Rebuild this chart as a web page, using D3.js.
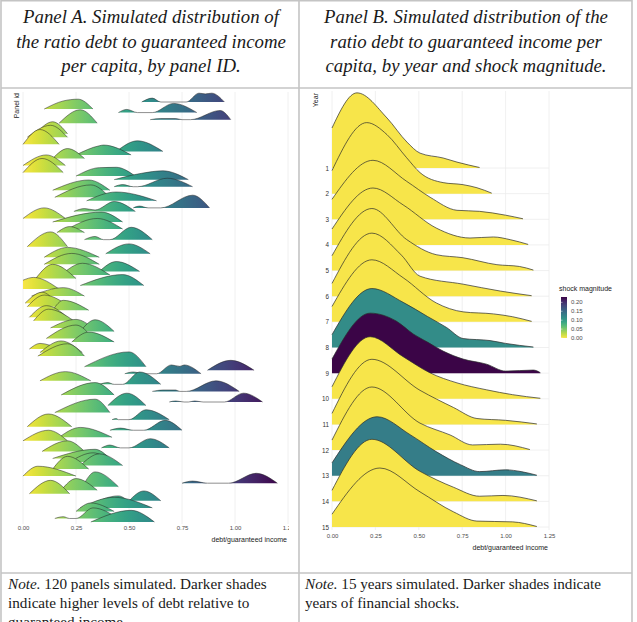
<!DOCTYPE html>
<html>
<head>
<meta charset="utf-8">
<script src="https://cdn.jsdelivr.net/npm/d3@7"></script>
<style>
  body { margin: 0; background: #fff; }
</style>
</head>
<body>
<div id="wrapper"></div>
<script>

// ---- data ----
const xTicks = [0, 0.25, 0.5, 0.75, 1, 1.25];
const years = [1, 2, 3, 4, 5, 6, 7, 8, 9, 10, 11, 12, 13, 14, 15];
const shockMagnitude = [0, 0, 0, 0, 0, 0, 0, 0.115, 0.23, 0, 0, 0, 0.13, 0, 0];
const legendTicks = [0, 0.05, 0.10, 0.15, 0.20];

// density per year: [debt ratio, density]
const yearDensities = [
  [[0,1.56],[0.144,2.93],[0.317,1.95],[0.432,1.01],[0.507,0.58],[0.64,0.39],[0.72,0.23],[0.85,0.02]],
  [[0,0.9],[0.2,2.77],[0.317,2.3],[0.43,1.4],[0.507,0.82],[0.64,0.43],[0.755,0.35],[0.835,0.23],[0.92,0.02]],
  [[0,0.78],[0.236,2.3],[0.43,1.48],[0.565,0.86],[0.72,0.35],[0.85,0.31],[1.0,0.16],[1.10,0.02]],
  [[0,0.62],[0.236,2.22],[0.41,1.56],[0.6,0.66],[0.795,0.27],[0.93,0.31],[1.03,0.2],[1.13,0.02]],
  [[0,0.58],[0.23,2.42],[0.43,1.21],[0.6,0.62],[0.755,0.5],[0.95,0.23],[1.08,0.16],[1.16,0.02]],
  [[0,0.5],[0.23,2.46],[0.4,1.6],[0.507,0.78],[0.755,0.47],[0.97,0.2],[1.15,0.02]],
  [[0,0.6],[0.23,2.42],[0.41,1.72],[0.6,0.74],[0.755,0.39],[0.93,0.31],[1.04,0.2],[1.15,0.02]],
  [[0,0.5],[0.23,2.3],[0.41,1.76],[0.55,1.21],[0.66,0.78],[0.755,0.35],[0.91,0.27],[1.0,0.16],[1.16,0.02]],
  [[0,0.55],[0.22,2.34],[0.37,2.03],[0.47,1.52],[0.55,1.21],[0.64,0.86],[0.755,0.55],[0.89,0.35],[1.0,0.08],[1.16,0.12],[1.2,0.02]],
  [[0,0.47],[0.22,2.42],[0.41,1.64],[0.565,1.01],[0.72,0.62],[0.89,0.35],[1.04,0.16],[1.2,0.02]],
  [[0,0.43],[0.23,2.54],[0.507,1.33],[0.7,0.66],[0.835,0.23],[1.0,0.16],[1.18,0.02]],
  [[0,0.39],[0.23,2.46],[0.507,1.05],[0.68,0.59],[0.81,0.2],[0.97,0.23],[1.14,0.02]],
  [[0,0.5],[0.26,2.3],[0.45,1.6],[0.6,0.94],[0.74,0.43],[0.85,0.16],[1.0,0.23],[1.09,0.16],[1.18,0.02]],
  [[0,0.43],[0.23,2.42],[0.507,1.17],[0.7,0.55],[0.85,0.2],[0.985,0.23],[1.18,0.02]],
  [[0,0.5],[0.276,2.3],[0.507,1.37],[0.7,0.59],[0.835,0.23],[1.04,0.2],[1.18,0.02]]
];

// panel ids (1..120) with visible ridges, and their densities
const panelIds = [120,118,117,115,114,111,110,108,106,105,104,102,100,99,98,96,95,93,92,90,89,87,86,84,83,81,
  79,77,76,74,72,71,70,68,67,65,63,62,61,59,58,56,55,53,52,50,49,48,45,44,43,41,40,38,37,35,34,32,30,28,27,
  25,24,22,21,19,18,17,16,14,12,11,10,9,7,6,5,4,2,1];
const panelDensities = [
  [[0.56,0],[0.61,1.1],[0.65,0],[0.77,0],[0.83,2.5],[0.86,2.3],[0.89,2.5],[0.95,0]],
  [[0.10,0],[0.19,2.3],[0.26,2.8],[0.33,0]],
  [[0.45,0],[0.49,0.9],[0.54,0],[0.61,0],[0.71,2.6],[0.82,0]],
  [[0.60,0],[0.65,0.3],[0.72,0.3],[0.75,0],[0.79,0],[0.93,2.6],[0.98,0]],
  [[0.17,0],[0.27,3.8],[0.35,0]],
  [[0.06,0],[0.14,3.4],[0.21,0]],
  [[0.02,0],[0.13,3.4],[0.21,0]],
  [[0.00,0],[0.08,4.2],[0.17,0]],
  [[0.44,0],[0.54,3.0],[0.66,0]],
  [[0.25,0],[0.36,2.6],[0.38,2.8],[0.51,0]],
  [[0.14,0],[0.21,2.8],[0.29,0]],
  [[0.00,0],[0.11,3.0],[0.20,0]],
  [[0.00,0],[0.09,4.0],[0.19,0]],
  [[0.25,0],[0.36,2.4],[0.44,2.5],[0.53,0]],
  [[0.43,0],[0.56,1.8],[0.66,2.5],[0.78,0]],
  [[0.43,0],[0.47,0.6],[0.52,0],[0.54,0],[0.68,2.4],[0.80,0]],
  [[0.14,0],[0.31,2.9],[0.41,0]],
  [[0.15,0],[0.32,3.5],[0.41,0]],
  [[0.30,0],[0.44,2.5],[0.63,0]],
  [[0.52,0],[0.55,0.5],[0.59,0],[0.65,0],[0.80,3.6],[0.88,0]],
  [[0.24,0],[0.29,0.8],[0.34,0.4],[0.43,2.8],[0.53,0]],
  [[0.00,0],[0.10,3.0],[0.20,0]],
  [[0.14,0],[0.37,2.8],[0.47,0]],
  [[0.21,0],[0.35,3.0],[0.47,0]],
  [[0.16,0],[0.22,1.7],[0.29,0]],
  [[0.29,0],[0.34,0.9],[0.38,0],[0.41,0],[0.51,3.5],[0.61,0]],
  [[0.02,0],[0.13,4.2],[0.21,0]],
  [[0.39,0],[0.50,2.8],[0.60,0]],
  [[0.10,0],[0.21,2.8],[0.36,0]],
  [[0.10,0],[0.23,3.1],[0.36,0]],
  [[0.36,0],[0.44,2.8],[0.55,0]],
  [[0.18,0],[0.28,3.3],[0.41,0]],
  [[0.06,0],[0.14,4.0],[0.25,0]],
  [[0.27,0],[0.47,3.1],[0.57,0]],
  [[0.00,2.5],[0.05,3.3],[0.17,0]],
  [[0.04,0],[0.19,2.4],[0.29,0]],
  [[0.01,0],[0.09,3.1],[0.16,0]],
  [[0.02,0],[0.10,3.3],[0.22,0]],
  [[0.14,0],[0.19,2.8],[0.31,0]],
  [[0.03,0],[0.11,3.3],[0.21,0]],
  [[0.05,0],[0.12,3.3],[0.24,0]],
  [[0.13,0],[0.25,2.4],[0.33,0]],
  [[0.27,0],[0.34,3.3],[0.43,0]],
  [[0.11,0],[0.25,3.8],[0.33,0]],
  [[0.23,0],[0.31,2.8],[0.43,0]],
  [[0.03,0],[0.08,1.6],[0.17,0]],
  [[0.08,0],[0.18,3.3],[0.28,0]],
  [[0.07,0],[0.21,3.5],[0.29,0]],
  [[0.29,0],[0.50,4.2],[0.58,0]],
  [[0.87,0],[0.98,2.8],[1.09,0]],
  [[0.48,0],[0.52,0.5],[0.57,0],[0.63,0],[0.70,2.5],[0.74,2.1],[0.76,2.5],[0.84,0]],
  [[0.08,0],[0.20,2.6],[0.32,0]],
  [[0.36,0],[0.40,0.5],[0.43,0],[0.47,0],[0.55,3.5],[0.65,0]],
  [[0.61,0],[0.66,0.4],[0.72,0.4],[0.74,0],[0.77,0],[0.91,3.0],[1.02,0]],
  [[0.18,0],[0.34,3.5],[0.43,0]],
  [[0.69,0],[0.72,0.3],[0.76,0],[0.78,0],[0.81,0.3],[0.85,0],[0.95,0],[1.04,2.5],[1.13,0]],
  [[0.40,0],[0.49,3.5],[0.58,0]],
  [[0.15,0],[0.34,3.8],[0.41,0]],
  [[0.42,0],[0.44,0.3],[0.45,0],[0.50,0],[0.58,2.8],[0.69,0]],
  [[0.02,0],[0.12,3.6],[0.23,0]],
  [[0.41,0],[0.46,0.6],[0.52,0],[0.57,0],[0.67,2.8],[0.75,0]],
  [[0.17,0],[0.27,2.8],[0.42,0]],
  [[0.00,0],[0.12,3.0],[0.21,0]],
  [[0.37,0],[0.41,0.8],[0.46,0],[0.50,0],[0.60,2.6],[0.69,0]],
  [[0.09,0],[0.21,3.0],[0.29,0]],
  [[0.14,0],[0.34,2.6],[0.41,0]],
  [[0.22,0],[0.33,2.6],[0.42,0]],
  [[0.27,0],[0.36,3.3],[0.47,0]],
  [[0.14,0],[0.21,3.6],[0.31,0]],
  [[0.00,0],[0.07,2.8],[0.25,0]],
  [[0.75,0],[0.80,0.6],[0.87,0],[0.97,0],[1.10,2.8],[1.20,0]],
  [[0.28,0],[0.34,4.2],[0.45,0]],
  [[0.18,0],[0.25,3.3],[0.35,0]],
  [[0.03,0],[0.13,3.8],[0.22,0]],
  [[0.50,0],[0.57,2.8],[0.65,0]],
  [[0.32,0],[0.45,2.4],[0.51,0]],
  [[0.27,0],[0.43,3.0],[0.61,0]],
  [[0.25,0],[0.32,2.4],[0.43,0]],
  [[0.15,0],[0.19,0.5],[0.22,0],[0.25,0],[0.33,3.0],[0.45,0]],
  [[0.32,0],[0.51,3.3],[0.62,0]]
];

const headerA = ["Panel A. Simulated distribution of", "the ratio debt to guaranteed income", "per capita, by panel ID."];
const headerB = ["Panel B. Simulated distribution of the", "ratio debt to guaranteed income per", "capita, by year and shock magnitude."];
const noteA = ["120 panels simulated. Darker shades", "indicate higher levels of debt relative to", "guaranteed income."];
const noteB = ["15 years simulated. Darker shades indicate", "years of financial shocks."];

// ---- layout ----
const width = 637, height = 622;
const svg = d3.select("#wrapper").append("svg")
  .attr("width", width).attr("height", height)
  .style("font-family", "'Liberation Sans', Arial, sans-serif");

const defs = svg.append("defs");

// table lines
const tableColor = "#c4c4c4";
const table = svg.append("g").attr("stroke", tableColor).attr("stroke-width", 1.6);
table.append("line").attr("x1", 1).attr("x2", 1).attr("y1", 0).attr("y2", height);
table.append("line").attr("x1", 632).attr("x2", 632).attr("y1", 0).attr("y2", height);
table.append("line").attr("x1", 299).attr("x2", 299).attr("y1", 0).attr("y2", height);
table.append("line").attr("x1", 1).attr("x2", 632).attr("y1", 0.8).attr("y2", 0.8);
table.append("line").attr("x1", 1).attr("x2", 632).attr("y1", 88).attr("y2", 88);
table.append("line").attr("x1", 1).attr("x2", 632).attr("y1", 573).attr("y2", 573);

// headers
function header(lines, cx) {
  svg.append("g").selectAll("text").data(lines).join("text")
    .attr("x", cx).attr("y", (d, i) => 23 + i * 24.5)
    .attr("text-anchor", "middle")
    .style("font-family", "'Liberation Serif', 'DejaVu Serif', serif")
    .style("font-style", "italic")
    .style("font-size", "18.8px")
    .attr("fill", "#1a1a1a")
    .text(d => d);
}
header(headerA, 151);
header(headerB, 466);

function note(lines, x0) {
  const t = svg.append("g").selectAll("text").data(lines).join("text")
    .attr("x", x0).attr("y", (d, i) => 589 + i * 19)
    .style("font-family", "'Liberation Serif', 'DejaVu Serif', serif")
    .style("font-size", "15.2px")
    .attr("fill", "#1a1a1a");
  t.filter((d, i) => i === 0).append("tspan").style("font-style", "italic").text("Note.");
  t.append("tspan").text((d, i) => (i === 0 ? " " : "") + d);
}
note(noteA, 8);
note(noteB, 305);

// ---- Panel A ----
const xA = d3.scaleLinear().domain([0, 1.25]).range([23, 288]);
const yA = d3.scalePoint().domain(d3.range(1, 121)).range([522, 102]);
const hA = d3.scaleLinear().domain([0, 1]).range([0, yA.step()]);
const viridisX = d3.scaleSequential(d3.interpolateViridis).domain([1.2, 0]);

const gradA = defs.append("linearGradient").attr("id", "gradA")
  .attr("gradientUnits", "userSpaceOnUse")
  .attr("x1", xA(0)).attr("x2", xA(1.2)).attr("y1", 0).attr("y2", 0);
gradA.selectAll("stop").data(d3.range(0, 1.201, 0.05)).join("stop")
  .attr("offset", d => d / 1.2)
  .attr("stop-color", d => viridisX(d));

defs.append("clipPath").attr("id", "clipA").append("rect")
  .attr("x", 0).attr("y", 88).attr("width", 289).attr("height", 485);

const panelA = svg.append("g").attr("clip-path", "url(#clipA)");

panelA.append("g").selectAll("line").data(xTicks).join("line")
  .attr("x1", d => xA(d)).attr("x2", d => xA(d))
  .attr("y1", 92).attr("y2", 524)
  .attr("stroke", "#ececec").attr("stroke-width", 0.8);

const ridgesA = panelIds.map((id, i) => ({ id, pts: panelDensities[i] }))
  .sort((a, b) => b.id - a.id);

const ridgeG = panelA.append("g").style("filter", "saturate(0.82)");
ridgesA.forEach(r => {
  const area = d3.area()
    .x(d => xA(d[0]))
    .y0(yA(r.id))
    .y1(d => yA(r.id) - hA(d[1]))
    .curve(d3.curveMonotoneX);
  const line = d3.line()
    .x(d => xA(d[0]))
    .y(d => yA(r.id) - hA(d[1]))
    .curve(d3.curveMonotoneX);
  ridgeG.append("path").attr("d", area(r.pts)).attr("fill", "url(#gradA)");
  ridgeG.append("path").attr("d", line(r.pts)).attr("fill", "none")
    .attr("stroke", "#222").attr("stroke-width", 0.6).attr("stroke-opacity", 0.85);
});

const axisA = panelA.append("g")
  .attr("transform", "translate(0,522)")
  .call(d3.axisBottom(xA).tickValues(xTicks).tickSize(0).tickPadding(4).tickFormat(d3.format(".2f")));
axisA.select(".domain").remove();
axisA.selectAll("text").style("font-size", "6px").attr("fill", "#4d4d4d");

panelA.append("text")
  .attr("x", 287).attr("y", 542)
  .attr("text-anchor", "end")
  .style("font-size", "7px").attr("fill", "#1a1a1a")
  .text("debt/guaranteed income");

panelA.append("text")
  .attr("transform", "translate(19,93) rotate(-90)")
  .attr("text-anchor", "end")
  .style("font-size", "7px").attr("fill", "#1a1a1a")
  .text("Panel id");

// ---- Panel B ----
const xB = d3.scaleLinear().domain([0, 1.25]).range([332, 549]);
const yB = d3.scalePoint().domain(years).range([168, 527]);
const hB = d3.scaleLinear().domain([0, 1]).range([0, yB.step()]);
const shockColor = d3.scaleSequential(d3.interpolateViridis).domain([0.23, 0]);

const panelB = svg.append("g");
const gridB = panelB.append("g").attr("stroke", "#ececec").attr("stroke-width", 0.8);
gridB.selectAll(".v").data(xTicks).join("line").attr("class", "v")
  .attr("x1", d => xB(d)).attr("x2", d => xB(d))
  .attr("y1", 91).attr("y2", 530);
gridB.selectAll(".h").data(years).join("line").attr("class", "h")
  .attr("x1", xB(0)).attr("x2", xB(1.25))
  .attr("y1", d => yB(d)).attr("y2", d => yB(d));

const ridgeB = panelB.append("g").style("filter", "saturate(0.8)");
years.forEach((yr, i) => {
  const base = yB(yr);
  const area = d3.area()
    .x(d => xB(d[0]))
    .y0(base)
    .y1(d => base - hB(d[1]))
    .curve(d3.curveMonotoneX);
  const line = d3.line()
    .x(d => xB(d[0]))
    .y(d => base - hB(d[1]))
    .curve(d3.curveMonotoneX);
  ridgeB.append("path").attr("d", area(yearDensities[i])).attr("fill", shockColor(shockMagnitude[i]));
  ridgeB.append("path").attr("d", line(yearDensities[i])).attr("fill", "none")
    .attr("stroke", "#2b2b2b").attr("stroke-width", 0.7);
});

const axisBx = panelB.append("g")
  .attr("transform", "translate(0,530)")
  .call(d3.axisBottom(xB).tickValues(xTicks).tickSize(0).tickPadding(4).tickFormat(d3.format(".2f")));
axisBx.select(".domain").remove();
axisBx.selectAll("text").style("font-size", "6px").attr("fill", "#4d4d4d");

const axisBy = panelB.append("g")
  .attr("transform", "translate(332,0)")
  .call(d3.axisLeft(yB).tickSize(0).tickPadding(3));
axisBy.select(".domain").remove();
axisBy.selectAll("text").style("font-size", "6.3px").attr("fill", "#333");

panelB.append("text")
  .attr("x", 548).attr("y", 550)
  .attr("text-anchor", "end")
  .style("font-size", "7px").attr("fill", "#1a1a1a")
  .text("debt/guaranteed income");

panelB.append("text")
  .attr("transform", "translate(318,93) rotate(-90)")
  .attr("text-anchor", "end")
  .style("font-size", "7px").attr("fill", "#1a1a1a")
  .text("Year");

// legend
const legY = d3.scaleLinear().domain([0, 0.23]).range([338, 297]);
const gradL = defs.append("linearGradient").attr("id", "gradL")
  .attr("x1", 0).attr("x2", 0).attr("y1", 1).attr("y2", 0);
gradL.selectAll("stop").data(d3.range(0, 1.001, 0.1)).join("stop")
  .attr("offset", d => d)
  .attr("stop-color", d => shockColor(d * 0.23));

const legend = svg.append("g");
legend.append("text").attr("x", 559).attr("y", 291)
  .style("font-size", "7px").attr("fill", "#1a1a1a").text("shock magnitude");
legend.append("rect").attr("x", 561).attr("y", legY(0.23)).attr("width", 6)
  .attr("height", legY(0) - legY(0.23)).attr("fill", "url(#gradL)")
  .style("filter", "saturate(0.8)");
legend.selectAll(".tk").data(legendTicks).join("line").attr("class", "tk")
  .attr("x1", 561).attr("x2", 562.5).attr("y1", d => legY(d)).attr("y2", d => legY(d))
  .attr("stroke", "#fff").attr("stroke-width", 0.5);
legend.selectAll(".lb").data(legendTicks).join("text").attr("class", "lb")
  .attr("x", 571).attr("y", d => legY(d)).attr("dy", "0.35em")
  .style("font-size", "6px").attr("fill", "#4d4d4d")
  .text(d => d3.format(".2f")(d));

</script>
</body>
</html>
